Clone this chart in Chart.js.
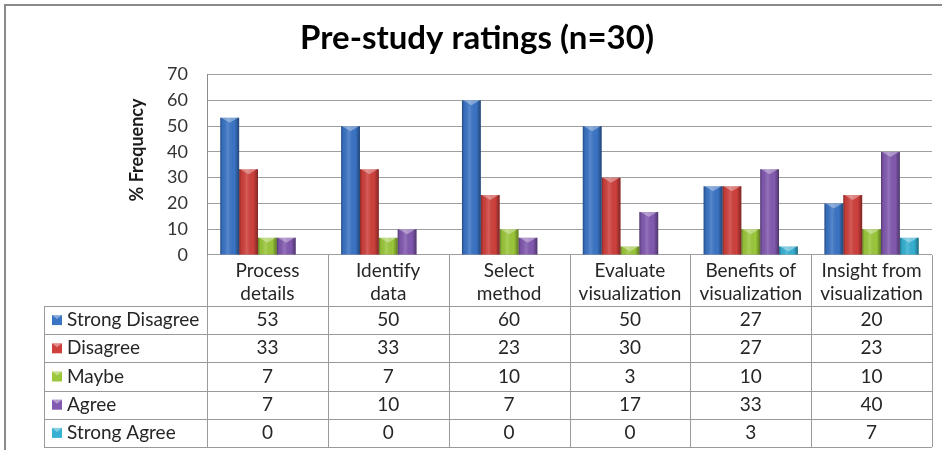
<!DOCTYPE html>
<html>
<head>
<meta charset="utf-8">
<script src="https://cdn.jsdelivr.net/npm/chart.js@4.4.0/dist/chart.umd.min.js"></script>
<style>
  html, body { margin: 0; padding: 0; background: #fff; }
</style>
</head>
<body>
<canvas id="grafica_ratings" width="942" height="450"></canvas>
<script>
// Datos (la tabla muestra los valores redondeados)
const categorias = [['Process', 'details'], ['Identify', 'data'], ['Select', 'method'],
  ['Evaluate', 'visualization'], ['Benefits of', 'visualization'], ['Insight from', 'visualization']];
const series = ['Strong Disagree', 'Disagree', 'Maybe', 'Agree', 'Strong Agree'];
const strongDisagree = [53.3, 50, 60, 50, 26.7, 20];
const disagree = [33.3, 33.3, 23.3, 30, 26.7, 23.3];
const maybe = [6.7, 6.7, 10, 3.3, 10, 10];
const agree = [6.7, 10, 6.7, 16.7, 33.3, 40];
const strongAgree = [0, 0, 0, 0, 3.3, 6.7];
const yMax = 70;
const yStep = 10;

const colores = ['#3a74c5', '#cf403c', '#9bc83a', '#8259b0', '#36b1d3'];
const valores = [strongDisagree, disagree, maybe, agree, strongAgree];

const FUENTE = 'Lato';

//Efecto biselado de las barras
const bisel = {
  id: 'bisel',
  afterDatasetsDraw(chart) {
    const ctx = chart.ctx;
    chart.data.datasets.forEach((ds, i) => {
      chart.getDatasetMeta(i).data.forEach(bar => {
        const p = bar.getProps(['x', 'y', 'base', 'width'], true);
        const h = p.base - p.y;
        if (h <= 0.5) return;
        const l = p.x - p.width / 2;
        const g = ctx.createLinearGradient(l, 0, l + p.width, 0);
        g.addColorStop(0, 'rgba(0,0,0,0.35)');
        g.addColorStop(0.12, 'rgba(0,0,0,0.05)');
        g.addColorStop(0.4, 'rgba(255,255,255,0.15)');
        g.addColorStop(0.75, 'rgba(0,0,0,0)');
        g.addColorStop(1, 'rgba(0,0,0,0.4)');
        ctx.save();
        ctx.fillStyle = g;
        ctx.fillRect(l, p.y, p.width, h);
        const t = Math.min(5, h);
        ctx.beginPath();
        ctx.moveTo(l + 1, p.y);
        ctx.lineTo(l + p.width - 1, p.y);
        ctx.lineTo(p.x, p.y + t);
        ctx.closePath();
        ctx.fillStyle = 'rgba(255,255,255,0.35)';
        ctx.fill();
        ctx.restore();
      });
    });
  }
};

//Tabla de datos, titulo del eje y marco
const tablaDatos = {
  id: 'tablaDatos',
  afterDraw(chart) {
    const ctx = chart.ctx;
    const area = chart.chartArea;
    const xs = chart.scales.x;
    const colW = (area.right - area.left) / categorias.length;
    const topH = area.bottom;
    const headerBottom = topH + 51;
    const rowH = 28.2;
    const tablaLeft = 44;
    const tablaBottom = headerBottom + rowH * series.length;

    ctx.save();
    // marco
    ctx.strokeStyle = '#8a8a8a';
    ctx.lineWidth = 2;
    ctx.beginPath();
    ctx.moveTo(5, 460); ctx.lineTo(5, 5); ctx.lineTo(960, 5);
    ctx.stroke();

    // titulo eje y
    ctx.translate(137, 150);
    ctx.rotate(-Math.PI / 2);
    ctx.font = 'bold 18px ' + FUENTE;
    ctx.fillStyle = '#1a1a1a';
    ctx.textAlign = 'center';
    ctx.textBaseline = 'middle';
    ctx.fillText('% Frequency', 0, 0);
    ctx.restore();

    ctx.save();
    ctx.strokeStyle = '#9a9a9a';
    ctx.lineWidth = 1;
    ctx.beginPath();
    // lineas verticales
    for (let i = 0; i <= categorias.length; i++) {
      const x = Math.round(area.left + i * colW) + 0.5;
      ctx.moveTo(x, topH);
      ctx.lineTo(x, tablaBottom);
    }
    ctx.moveTo(tablaLeft + 0.5, headerBottom);
    ctx.lineTo(tablaLeft + 0.5, tablaBottom);
    // lineas horizontales
    for (let r = 0; r <= series.length; r++) {
      const y = Math.round(headerBottom + r * rowH) + 0.5;
      ctx.moveTo(tablaLeft, y);
      ctx.lineTo(area.right, y);
    }
    ctx.stroke();

    ctx.fillStyle = '#262626';
    ctx.font = '19px ' + FUENTE;
    ctx.textBaseline = 'middle';
    ctx.textAlign = 'center';
    categorias.forEach((c, i) => {
      const cx = xs.getPixelForValue(i);
      ctx.fillText(c[0], cx, topH + 16);
      ctx.fillText(c[1], cx, topH + 39);
    });

    series.forEach((s, r) => {
      const cy = headerBottom + r * rowH + rowH / 2;
      // cuadro de leyenda
      ctx.fillStyle = colores[r];
      ctx.fillRect(52, cy - 5, 10, 10);
      ctx.beginPath();
      ctx.moveTo(52, cy - 5); ctx.lineTo(62, cy - 5); ctx.lineTo(57, cy - 1); ctx.closePath();
      ctx.fillStyle = 'rgba(255,255,255,0.4)';
      ctx.fill();
      ctx.fillStyle = '#262626';
      ctx.textAlign = 'left';
      ctx.fillText(s, 67, cy);
      ctx.textAlign = 'center';
      valores[r].forEach((v, i) => {
        ctx.fillText(String(Math.round(v)), xs.getPixelForValue(i), cy);
      });
    });
    ctx.restore();
  }
};

const grafica_ratings = document.getElementById('grafica_ratings');

let grafica_ratings_OBJ = new Chart(grafica_ratings, {
  type: 'bar',
  data: {
    labels: categorias.map(c => c.join(' ')),
    datasets: series.map((s, i) => ({
      label: s,
      data: valores[i],
      backgroundColor: colores[i],
      borderWidth: 0,
      barPercentage: 1,
      categoryPercentage: 0.78
    }))
  },
  options: {
    responsive: false,
    animation: false,
    layout: { padding: { left: 22, right: 10, top: 6, bottom: 195 } },
    plugins: {
      legend: { display: false },
      tooltip: { enabled: false },
      title: {
        display: true,
        text: 'Pre-study ratings (n=30)',
        color: '#000',
        font: { family: FUENTE, size: 33, weight: 'bold' },
        padding: { top: 13, bottom: 16 }
      }
    },
    scales: {
      x: { display: false },
      y: {
        min: 0,
        max: yMax,
        afterFit(scale) { scale.width = 185; },
        ticks: {
          stepSize: yStep,
          padding: 19,
          color: '#333333',
          font: { family: FUENTE, size: 18 }
        },
        grid: { color: '#a0a0a0', lineWidth: 1, drawTicks: false },
        border: { color: '#8c8c8c', width: 1 }
      }
    }
  },
  plugins: [bisel, tablaDatos]
});
</script>
</body>
</html>
